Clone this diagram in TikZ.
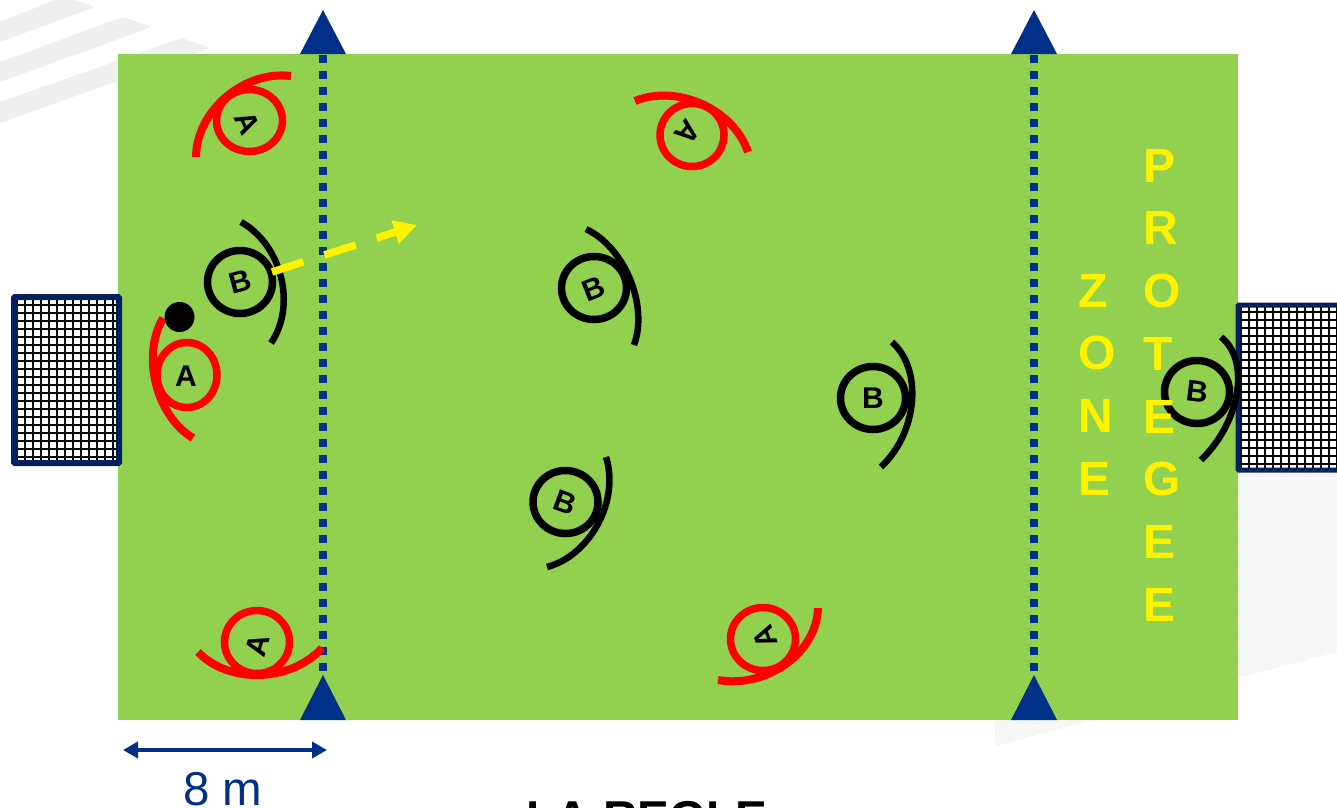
\documentclass[tikz,border=0pt]{standalone}
\usepackage{fontspec}
\setmainfont{Liberation Sans}
\usetikzlibrary{calc,arrows.meta,patterns,shapes.geometric}
\definecolor{field}{HTML}{92D050}
\definecolor{navy}{HTML}{003087}
\definecolor{frameblue}{HTML}{002060}
\definecolor{stripe}{HTML}{EFEFEF}
\definecolor{hatchbase}{HTML}{FCFCFC}
\definecolor{hatchline}{HTML}{EEEEEE}
\newcommand{\bend}[4]{\draw[#1] (#2) .. controls ($0.0833*(#2)-0.4167*(#4)+1.3333*(#3)$) and ($-0.4167*(#2)+0.0833*(#4)+1.3333*(#3)$) .. (#4);}
\tikzset{
 x=1pt,y=-1pt,
 player/.style={ellipse,draw=#1,line width=7.5pt,minimum width=65pt,minimum height=63pt,inner sep=0pt,outer sep=0pt},
 letter/.style={font=\bfseries\fontsize{30}{30}\selectfont,inner sep=0pt},
 redarc/.style={draw=red,line width=8pt},
 blackarc/.style={draw=black,line width=6.5pt},
 cone/.style={fill=navy,draw=none},
 dotline/.style={navy,line width=8pt,dash pattern=on 8pt off 8pt},
 zone/.style={font=\bfseries\fontsize{48}{62.7}\selectfont,text=yellow,align=left,inner sep=0pt},
}
\begin{document}
\begin{tikzpicture}
\useasboundingbox (0,0) rectangle (1337,807);
\clip (0,0) rectangle (1337,807);
% background marks
\fill[stripe] (0,22) -- (55,0) -- (75,0) -- (95,7) -- (0,42) -- cycle;
\fill[stripe] (0,62) -- (123,17) -- (152,27) -- (0,82) -- cycle;
\fill[stripe] (0,102) -- (182,38) -- (210,48) -- (0,123) -- cycle;
\fill[hatchbase] (1238,472) -- (1337,472) -- (1337,652) -- (1238,678) -- cycle;
\fill[pattern=north west lines,pattern color=hatchline] (1238,472) -- (1337,472) -- (1337,652) -- (1238,678) -- cycle;
\fill[hatchbase] (995,720) -- (1092,720) -- (995,746) -- cycle;
\fill[pattern=north west lines,pattern color=hatchline] (995,720) -- (1092,720) -- (995,746) -- cycle;
% field
\fill[field] (118,54) rectangle (1238,720);
% goals
\begin{scope}
\clip (14,297) rectangle (119,463);
\fill[white] (14,297) rectangle (119,463);
\draw[black,line width=2.4pt,step=8pt,shift={(1,1)}] (0,280) grid (128,480);
\end{scope}
\draw[frameblue,line width=6pt,rounded corners=1pt] (14,297) rectangle (119,463);
\begin{scope}
\clip (1238,305) rectangle (1337,470);
\fill[white] (1238,305) rectangle (1337,470);
\draw[black,line width=2.4pt,step=8pt,shift={(1,0)}] (1232,296) grid (1340,480);
\end{scope}
\draw[frameblue,line width=5pt,rounded corners=1pt] (1238,305) rectangle (1345,470);
% lines
\coordinate (la) at (323,55); \coordinate (lb) at (323,672);
\coordinate (ra) at (1034,55); \coordinate (rb) at (1034,672);
\draw[dotline] (la) -- (lb);
\draw[dotline] (ra) -- (rb);
% cones
\fill[cone] (323,10) -- (346,54) -- (300,54) -- cycle;
\fill[cone] (1034,10) -- (1057,54) -- (1011,54) -- cycle;
\fill[cone] (323,675) -- (346,720) -- (300,720) -- cycle;
\fill[cone] (1034,675) -- (1057,720) -- (1011,720) -- cycle;
% arcs and players
\coordinate (a1s) at (196,157); \coordinate (a1m) at (226,97); \coordinate (a1e) at (291,76);
\bend{redarc}{a1s}{a1m}{a1e}
\node[player=red,minimum width=66pt,minimum height=62pt] (A1) at (249.5,120.5) {};
\node[letter,rotate=-65] (LA1) at (247,123) {A};
\coordinate (a2s) at (163,318); \coordinate (a2m) at (156,384); \coordinate (a2e) at (193,438);
\bend{redarc}{a2s}{a2m}{a2e}
\node[player=red,minimum width=60pt,minimum height=65pt] (A2) at (187,375) {};
\node[letter] (LA2) at (186,376) {A};
\coordinate (a3s) at (635,101); \coordinate (a3m) at (702,104); \coordinate (a3e) at (748,152);
\bend{redarc}{a3s}{a3m}{a3e}
\node[player=red,minimum width=64pt,minimum height=63pt] (A3) at (692,135) {};
\node[letter,rotate=-129] (LA3) at (688,132) {A};
\coordinate (a4s) at (198,652); \coordinate (a4m) at (260,675); \coordinate (a4e) at (322,648);
\bend{redarc}{a4s}{a4m}{a4e}
\node[player=red] (A4) at (257,642) {};
\node[letter,rotate=74] (LA4) at (258,645) {A};
\coordinate (a5s) at (718,680); \coordinate (a5m) at (786,664); \coordinate (a5e) at (818,608);
\bend{redarc}{a5s}{a5m}{a5e}
\node[player=red] (A5) at (763,639) {};
\node[letter,rotate=111] (LA5) at (765,637) {A};
\coordinate (b1s) at (241,222); \coordinate (b1m) at (281,277); \coordinate (b1e) at (271,343);
\bend{blackarc}{b1s}{b1m}{b1e}
\node[player=black] (B1) at (240,282) {};
\node[letter,rotate=15] (LB1) at (B1) {B};
\coordinate (b2s) at (586,229); \coordinate (b2m) at (630,279); \coordinate (b2e) at (634,345);
\bend{blackarc}{b2s}{b2m}{b2e}
\node[player=black] (B2) at (594,288) {};
\node[letter,rotate=22] (LB2) at (594,289) {B};
\coordinate (b3s) at (892,342); \coordinate (b3m) at (912,402); \coordinate (b3e) at (881,467);
\bend{blackarc}{b3s}{b3m}{b3e}
\node[player=black] (B3) at (873,398) {};
\node[letter] (LB3) at (B3) {B};
\coordinate (b4s) at (606,457); \coordinate (b4m) at (598,524); \coordinate (b4e) at (547,567);
\bend{blackarc}{b4s}{b4m}{b4e}
\node[player=black] (B4) at (565.5,502) {};
\node[letter,rotate=-20] (LB4) at (B4) {B};
\coordinate (b5s) at (1221,337); \coordinate (b5m) at (1237,393); \coordinate (b5e) at (1201,460);
\bend{blackarc}{b5s}{b5m}{b5e}
\node[player=black] (B5) at (1197,392) {};
\node[letter,rotate=-7] (LB5) at (B5) {B};
% ball
\node[circle,fill=black,minimum size=30pt,inner sep=0pt] (ball) at (179.5,317) {};
% pass
\coordinate (ps) at (272,272); \coordinate (pe) at (417,225);
\draw[yellow,line width=7.5pt,dash pattern=on 33pt off 22pt,-{Triangle[length=23pt,width=23pt]}] (ps) -- (pe);
% measure
\coordinate (ma) at (123,750); \coordinate (mb) at (327,750);
\draw[navy,line width=4pt,{Triangle[length=15pt,width=16pt]}-{Triangle[length=15pt,width=16pt]}] (ma) -- (mb);
\node[inner sep=0pt,text=navy,font=\fontsize{47.5}{47.5}\selectfont,anchor=base] (meas) at (223,805) {8 m};
% texts
\node[zone,anchor=north west] (zn) at (1078.5,274) {Z\\O\\N\\E};
\node[zone,anchor=north west] (pr) at (1143,149) {P\\R\\O\\T\\E\\G\\E\\E};
\node[inner sep=0pt,font=\bfseries\fontsize{47.5}{47.5}\selectfont,anchor=base] (title) at (647,834) {LA REGLE};
\end{tikzpicture}
\end{document}
